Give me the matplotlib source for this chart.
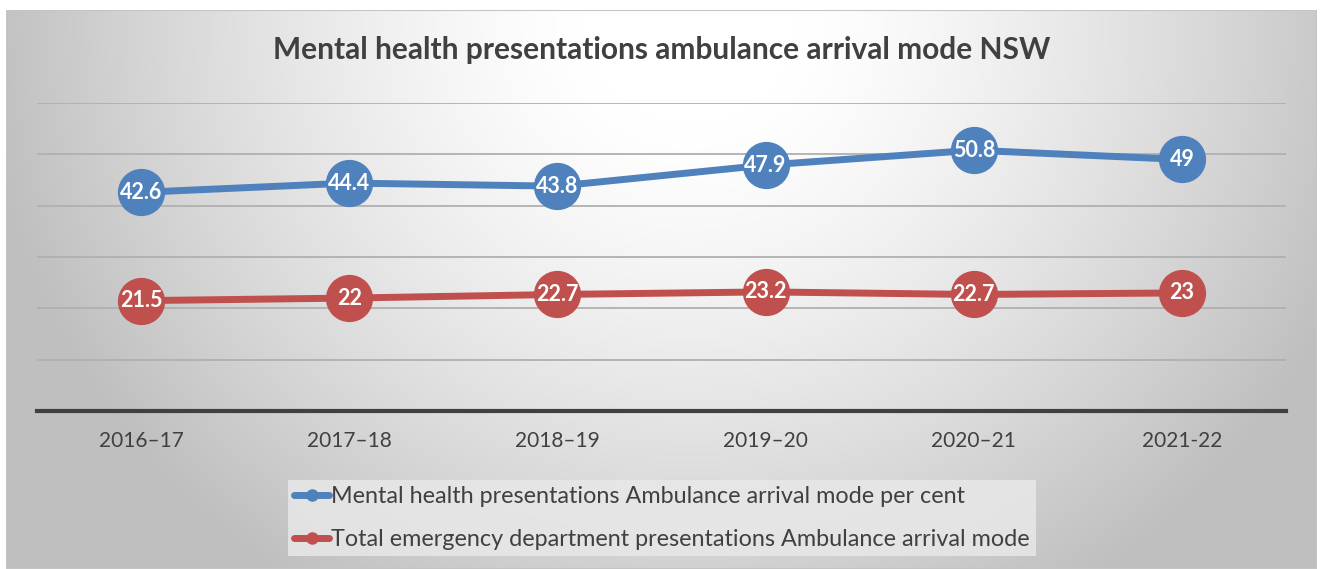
import numpy as np
import matplotlib
matplotlib.use("Agg")
import matplotlib.pyplot as plt
from matplotlib.lines import Line2D

categories = ["2016–17", "2017–18", "2018–19", "2019–20", "2020–21", "2021-22"]
mental_health = [42.6, 44.4, 43.8, 47.9, 50.8, 49]
total_ed = [21.5, 22, 22.7, 23.2, 22.7, 23]
labels_mh = ["42.6", "44.4", "43.8", "47.9", "50.8", "49"]
labels_ed = ["21.5", "22", "22.7", "23.2", "22.7", "23"]
series_names = ["Mental health presentations Ambulance arrival mode per cent",
                "Total emergency department presentations Ambulance arrival mode"]
title = "Mental health presentations ambulance arrival mode NSW"

plt.rcParams['font.family'] = ['Lato', 'DejaVu Sans']

W, H = 1323, 569
fig = plt.figure(figsize=(W / 100, H / 100), dpi=100)
fig.patch.set_facecolor('white')

# background gradient panel
bg = fig.add_axes([6 / W, 0, (1317 - 6) / W, (H - 10) / H])
bg.set_axis_off()
nx, ny = 400, 200
xx, yy = np.meshgrid(np.linspace(6, 1317, nx), np.linspace(10, 569, ny))
d = np.sqrt(((xx - 690) / 1.0) ** 2 + ((yy - 20) * 1.05) ** 2)
d = np.clip((d - 110) / 600, 0, 1)
v = 1.0 - 0.25 * d ** 1.3
img = np.dstack([v, v, v])
bg.imshow(img, extent=[0, 1, 0, 1], aspect='auto', origin='upper')
bg.add_patch(plt.Rectangle((0, 0), 1, 1, transform=bg.transAxes, fill=False,
                           edgecolor='#c4c4c4', lw=1.5))

ax = fig.add_axes([37 / W, (H - 411) / H, (1286 - 37) / W, (411 - 103) / H])
ax.set_facecolor('none')
x = np.arange(len(categories))
ax.set_xlim(-0.5, len(categories) - 0.5)
ax.set_ylim(0, 60)
ax.set_yticks(np.arange(0, 61, 10))
ax.yaxis.grid(True, color='#b0b0b0', lw=1.3)
ax.set_axisbelow(True)
for s in ['top', 'right', 'left']:
    ax.spines[s].set_visible(False)
ax.spines['bottom'].set_color('#404040')
ax.spines['bottom'].set_linewidth(3)
ax.tick_params(axis='y', left=False, labelleft=False)
ax.tick_params(axis='x', bottom=False, pad=11)
ax.set_xticks(x)
ax.set_xticklabels(categories, fontsize=15, color='#404040')

blue = '#4F81BD'
red = '#C0504D'
for vals, labs, col in [(mental_health, labels_mh, blue), (total_ed, labels_ed, red)]:
    ax.plot(x, vals, color=col, lw=5, marker='o', ms=33, mfc=col, mec=col,
            solid_capstyle='round', clip_on=False, zorder=3)
    for xi, yi, lb in zip(x, vals, labs):
        ax.text(xi, yi, lb, ha='center', va='center', color='white',
                fontsize=15.5, fontweight='bold', zorder=4)

fig.text(662 / W, 1 - 50 / H, title, ha='center', va='center', fontsize=21.5,
         fontweight='bold', color='#404040')

handles = [Line2D([0], [0], color=blue, lw=5, marker='o', ms=8, solid_capstyle='round'),
           Line2D([0], [0], color=red, lw=5, marker='o', ms=8, solid_capstyle='round')]
leg = fig.legend(handles, series_names, loc='center', bbox_to_anchor=(662 / W, 1 - 518 / H),
                 frameon=True, fontsize=16.8, handlelength=1.5, handletextpad=0.08,
                 labelspacing=0.95, borderpad=0.25, borderaxespad=0, fancybox=False)
leg.get_frame().set_facecolor('#e8e8e8')
leg.get_frame().set_edgecolor('none')
leg.get_frame().set_alpha(0.85)
for t in leg.get_texts():
    t.set_color('#404040')

fig.savefig('out.png', dpi=100)
